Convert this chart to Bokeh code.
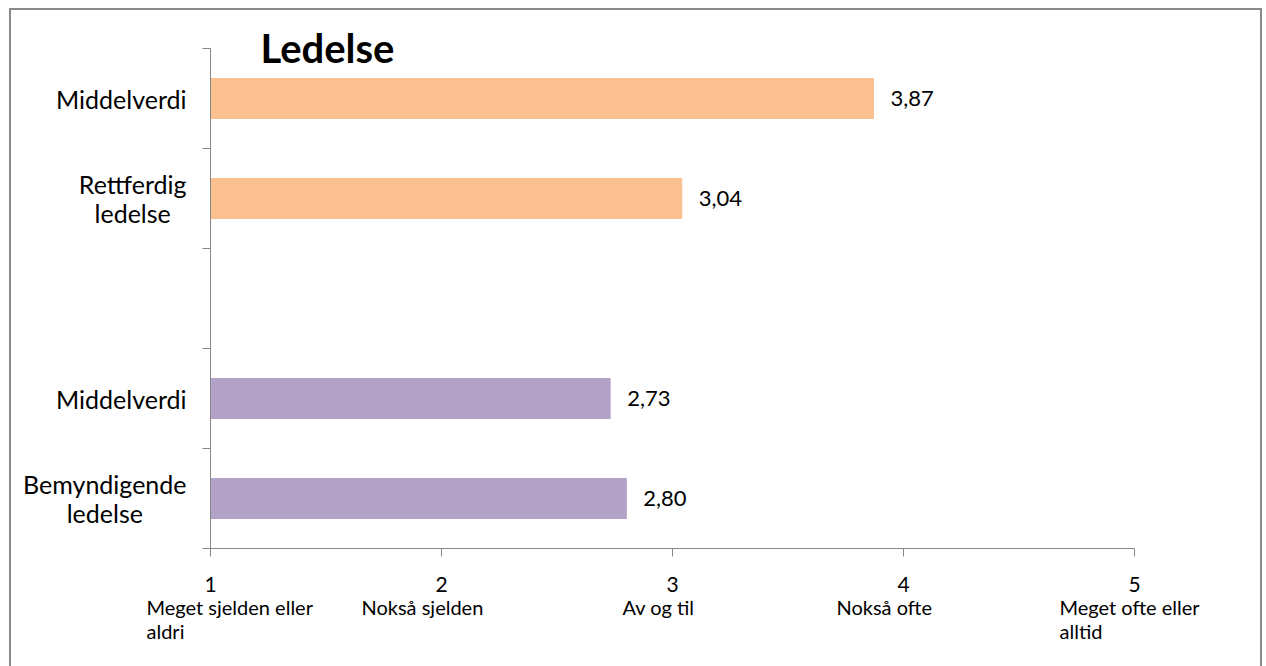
from bokeh.plotting import figure
from bokeh.models import FixedTicker, ColumnDataSource, Range1d
from bokeh.core.properties import value
from bokeh.embed import file_html
from bokeh.resources import INLINE

# Survey scores, listed from the top row downwards ("" marks the empty spacer row)
categories = ["Middelverdi", "Rettferdig\nledelse", "", "Middelverdi", "Bemyndigende\nledelse"]
values = [3.87, 3.04, None, 2.73, 2.80]
bar_colors = ["#FAC090", "#FAC090", None, "#B3A2C7", "#B3A2C7"]

scale_values = [1, 2, 3, 4, 5]
scale_labels = ["Meget sjelden eller\naldri", "Nokså sjelden", "Av og til",
                "Nokså ofte", "Meget ofte eller\nalltid"]
scale_label_shift = [-64, -80, -50, -67, -75]   # px, left edge of each caption

title_text = "Ledelse"
FONT = "Lato"
n = len(categories)

# canvas geometry: 231 px per scale step, 100 px per row
W, H = 1253, 660
PX_X, PX_Y = 231, 100
LEFT, TOP = 199, 38          # position of the (1, n) corner inside the canvas
x0 = 1 - LEFT / PX_X
x1 = x0 + W / PX_X
y1 = n + TOP / PX_Y
y0 = y1 - H / PX_Y

# y centre of each row: top row is highest
rows = [n - 0.5 - i for i in range(n)]
bars = [(rows[i], values[i], bar_colors[i]) for i in range(n) if values[i] is not None]
src = ColumnDataSource(dict(
    y=[b[0] for b in bars],
    v=[b[1] for b in bars],
    c=[b[2] for b in bars],
    lbl=[f"{b[1]:.2f}".replace(".", ",") for b in bars],
))
named = [(rows[i], categories[i]) for i in range(n) if categories[i]]
cat_src = ColumnDataSource(dict(
    x=[1] * len(named),
    y=[r for r, _ in named],
    t=[c for _, c in named],
))

p = figure(width=W, height=H, output_backend="svg", toolbar_location=None,
           x_range=Range1d(x0, x1), y_range=Range1d(y0, y1),
           min_border=0,
           styles={"margin-left": "9px", "margin-top": "8px", "border": "2px solid #8a8a8a"})
p.outline_line_color = None
p.xgrid.visible = False
p.ygrid.visible = False
p.background_fill_color = "white"
p.border_fill_color = "white"

p.hbar(y="y", left=1, right="v", height=0.4, color="c", source=src)
p.text(x="v", y="y", text="lbl", source=src, x_offset=17, text_baseline="middle",
       text_font=value(FONT), text_font_size="22px", text_color="#000000")

# x axis: 1..5 scale, drawn at y = 0
xa = p.xaxis[0]
xa.fixed_location = 0
xa.bounds = (1, 5)
xa.ticker = FixedTicker(ticks=scale_values, minor_ticks=[])
xa.major_label_text_font = FONT
xa.major_label_text_font_size = "21px"
xa.major_label_text_color = "#000000"
xa.major_label_standoff = 20
xa.axis_line_color = "#868686"
xa.major_tick_line_color = "#868686"
xa.major_tick_out = 8
xa.major_tick_in = 0

# y axis at x = 1: tick marks between rows only
ya = p.yaxis[0]
ya.fixed_location = 1
ya.bounds = (0, n)
ya.ticker = FixedTicker(ticks=[], minor_ticks=list(range(n + 1)))
ya.major_tick_out = 0
ya.major_tick_in = 0
ya.minor_tick_out = 8
ya.minor_tick_in = 0
ya.minor_tick_line_color = "#868686"
ya.axis_line_color = "#868686"

# row names, lines centred within each block, block right-aligned to the axis
p.text(x="x", y="y", text="t", source=cat_src, x_offset=-24,
       anchor="center_right", text_align="center",
       text_font=value(FONT), text_font_size="25px", text_color="#000000",
       text_line_height=0.95)

# verbal captions under the scale numbers
p.text(x=scale_values, y=[-0.46] * len(scale_values), text=scale_labels,
       x_offset=scale_label_shift, text_align="left", text_baseline="top",
       text_font=value(FONT), text_font_size="20px", text_color="#000000",
       text_line_height=1.0)

# chart title
p.text(x=[1.216], y=[n + 0.01], text=[title_text], text_align="left",
       text_baseline="alphabetic", text_font=value(FONT), text_font_size="40px",
       text_font_style="bold", text_color="#000000")

open("out.html", "w").write(file_html(p, INLINE))
